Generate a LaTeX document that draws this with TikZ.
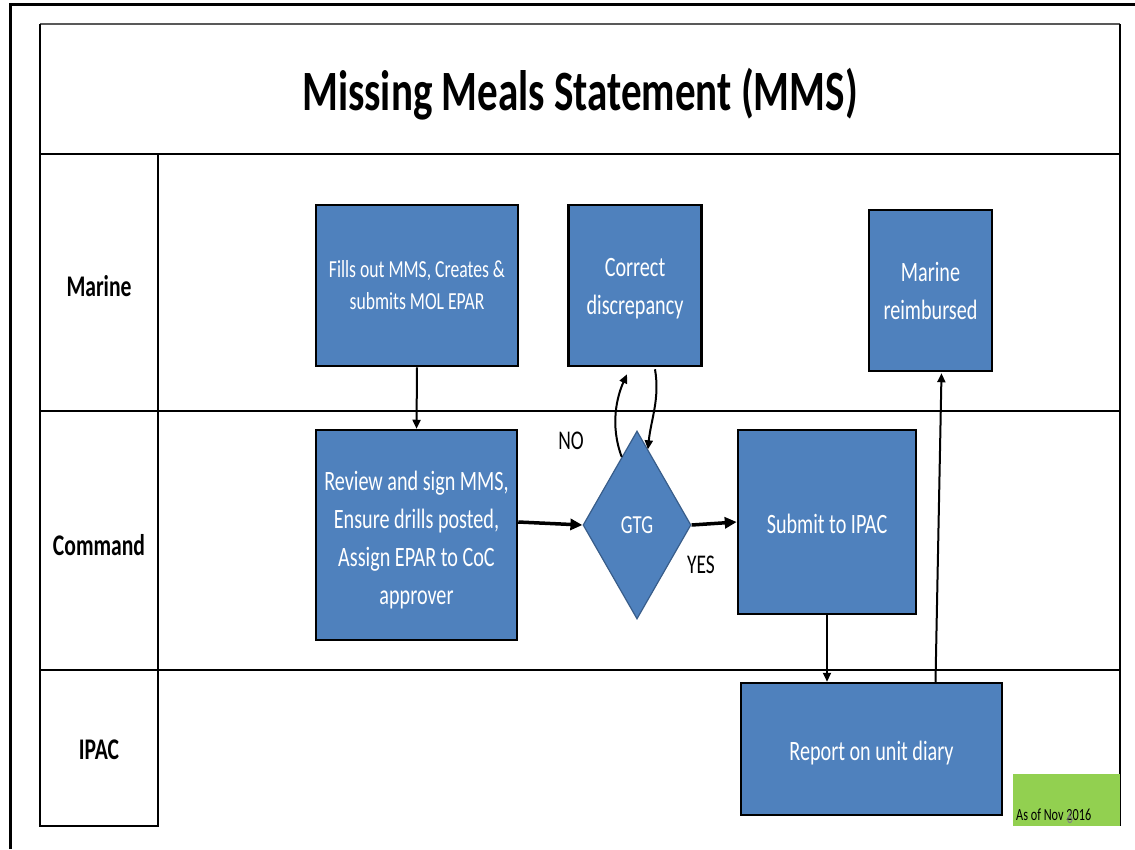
\documentclass[tikz,border=0pt]{standalone}
\usepackage{fontspec}
\setmainfont{Carlito}[FakeStretch=0.72]
\usetikzlibrary{shapes.geometric,arrows.meta,calc}
\definecolor{boxblue}{RGB}{79,129,189}
\definecolor{diaedge}{RGB}{56,93,138}
\definecolor{tagreen}{RGB}{146,208,80}
\newcommand\lowln[2]{\raisebox{-#1}[\height][\depth]{#2}}
\begin{document}
\begin{tikzpicture}[x=1pt,y=-1pt,
  proc/.style={draw=black, line width=2.5pt, fill=boxblue, text=white, align=center, inner sep=0pt, font=\fontsize{28}{38}\selectfont},
  smallproc/.style={proc, font=\fontsize{24.5}{32}\selectfont},
  decision/.style={diamond, draw=diaedge, line width=1.2pt, fill=boxblue, text=white, inner sep=0pt, font=\fontsize{26}{30}\selectfont},
  lane/.style={font=\bfseries\fontsize{30}{34}\selectfont},
  flow/.style={line width=2pt, -{Triangle[length=9pt,width=8pt]}},
  bigflow/.style={line width=3.5pt, -{Triangle[length=12pt,width=11pt]}},
  lbl/.style={font=\fontsize{27}{30}\selectfont},
  grid/.style={line width=2pt, black}
]
\useasboundingbox (0,0) rectangle (1135,849);
% outer frame
\draw[line width=3pt] (10,849) -- (10,4) -- (1135,4);
% table
\draw[line width=1.5pt, gray!70!black] (40,24) -- (1120,24);
\draw[grid] (40,24) -- (40,826) -- (158,826) -- (158,154);
\draw[grid] (1120,24) -- (1120,826);
\draw[line width=2.8pt] (40,154) -- (1120,154);
\draw[line width=1.5pt] (40,411) -- (1120,411);
\draw[line width=2pt] (40,670) -- (1120,670);
% title and lane labels
\node[font=\bfseries\fontsize{57}{66}\selectfont] (title) at (580,94) {Missing Meals Statement (MMS)};
\node[lane] (lmarine) at (99,286) {Marine};
\node[lane] (lcommand) at (99,545) {Command};
\node[lane] (lipac) at (99,750) {IPAC};
% process nodes
\node[smallproc, minimum width=202pt, minimum height=161pt] (fills) at (417,285.5) {Fills out MMS, Creates \&\\submits MOL EPAR};
\node[proc, minimum width=133pt, minimum height=161pt] (correct) at (635,285.5) {\lowln{3pt}{Correct}\\\lowln{3pt}{discrepancy}};
\node[proc, minimum width=123pt, minimum height=161pt] (reimb) at (930.5,290.5) {Marine\\reimbursed};
\node[proc, minimum width=201pt, minimum height=210pt] (review) at (416.5,535) {\lowln{5pt}{Review and sign MMS,}\\\lowln{5pt}{Ensure drills posted,}\\\lowln{5pt}{Assign EPAR to CoC}\\\lowln{5pt}{approver}};
\node[decision, minimum width=108pt, minimum height=188pt] (gtg) at (637,525) {GTG};
\node[proc, minimum width=178pt, minimum height=184pt] (submit) at (827,522) {\lowln{2pt}{Submit to IPAC}};
\node[proc, minimum width=261pt, minimum height=132pt] (report) at (871.5,749) {\lowln{4pt}{Report on unit diary}};
% date tag
\node[fill=tagreen, minimum width=107pt, minimum height=52pt, inner sep=0pt] (tag) at (1066.5,800) {};
\node[anchor=base west, font=\fontsize{17}{20}\selectfont, inner sep=0pt] (tagtext) at (1016,820) {As of Nov 2016};
\node[anchor=base, font=\fontsize{17}{20}\selectfont, text=gray, inner sep=0pt] (slideno) at (1070,823) {6};
% labels
\node[lbl] (no) at (571,441) {NO};
\node[lbl] (yes) at (701,565) {YES};
% connectors
\draw[flow] (fills.south) -- (review.north);
\draw[bigflow] ($(review.east)+(0,-13)$) -- (gtg.west);
\draw[bigflow] (gtg.east) -- (submit.west);
\coordinate (nostart) at ($(gtg.north)!0.28!(gtg.west)$);
\coordinate (noend) at ($(correct.south)+(-8,7)$);
\draw[flow] (nostart) .. controls +(-12,-32) and +(-10,22) .. (noend);
\coordinate (backstart) at ($(correct.south)+(20,2)$);
\coordinate (backend) at ($(gtg.north)!0.2!(gtg.east)$);
\draw[flow] (backstart) .. controls +(5,30) and +(3,-30) .. (backend);
\draw[flow] (submit.south) -- (submit.south |- report.north);
\draw[flow] ($(report.north)+(64,0)$) -- ($(reimb.south)+(11,1)$);
\end{tikzpicture}
\end{document}
